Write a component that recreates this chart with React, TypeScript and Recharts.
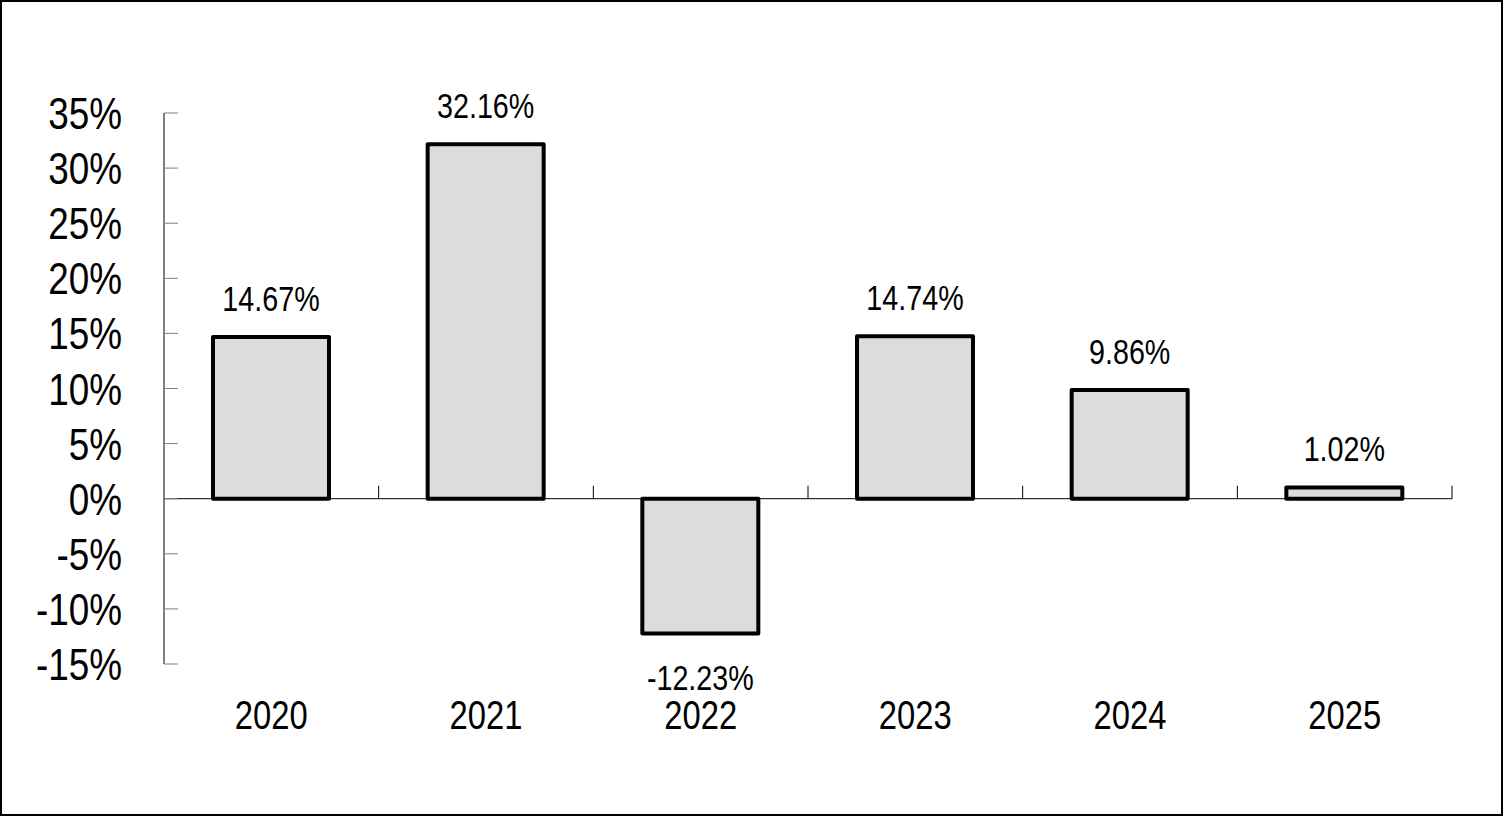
import React from 'react';
import { BarChart, Bar, XAxis, YAxis, ReferenceLine, LabelList } from 'recharts';

const years = ['2020', '2021', '2022', '2023', '2024', '2025'];
const returns = [14.67, 32.16, -12.23, 14.74, 9.86, 1.02];
const yTicks = [-15, -10, -5, 0, 5, 10, 15, 20, 25, 30, 35];

const data = years.map((year, i) => ({ year, value: returns[i] }));

const W = 1503;
const H = 816;
const M = { top: 113, right: 51, bottom: 72, left: 64 };
const YAW = 100;
const XAH = 80;
const plotLeft = M.left + YAW;
const plotRight = W - M.right;
const plotTop = M.top;
const plotBottom = H - M.bottom - XAH;
const band = (plotRight - plotLeft) / years.length;
const zeroY = plotTop + (35 / 50) * (plotBottom - plotTop);
const FONT = '"Liberation Sans",Arial,sans-serif';
const NARROW = 0.82;

const NText = ({ x, y, anchor, size, children }: any) => (
  <text
    transform={`translate(${x},${y}) scale(${NARROW},1)`}
    x={0}
    y={0}
    textAnchor={anchor}
    fontSize={size}
    fontFamily={FONT}
    fill="#000"
  >
    {children}
  </text>
);

const XTick = (props: any) => {
  const { x, y, payload } = props;
  return (
    <g>
      <line x1={x + band / 2} x2={x + band / 2} y1={zeroY} y2={zeroY - 13} stroke="#000" strokeWidth={1} />
      <NText x={x} y={y + 65} anchor="middle" size={40}>
        {payload.value}
      </NText>
    </g>
  );
};

const YTick = (props: any) => {
  const { x, y, payload } = props;
  return (
    <g>
      <line x1={x} x2={x + 14} y1={y} y2={y} stroke="#808080" strokeWidth={1} />
      <NText x={x - 42} y={y + 16} anchor="end" size={45}>
        {payload.value}%
      </NText>
    </g>
  );
};

const DataLabel = (props: any) => {
  const { x, y, width, height, value } = props;
  const top = Math.min(y, y + height);
  const bottom = Math.max(y, y + height);
  const neg = value < 0;
  const ty = neg ? bottom + 57 : top - 26;
  return (
    <NText x={x + width / 2} y={ty} anchor="middle" size={35}>
      {`${Number(value).toFixed(2)}%`}
    </NText>
  );
};

export default function App() {
  return (
    <div style={{ position: 'relative', width: W, height: H }}>
      <style>{'body{margin:0;}'}</style>
      <div
        style={{
          position: 'absolute',
          left: 0,
          top: 0,
          width: W,
          height: H,
          border: '2px solid #000',
          boxSizing: 'border-box',
          background: '#fff',
        }}
      />
      <div style={{ position: 'absolute', left: 0, top: 0 }}>
        <BarChart width={W} height={H} data={data} margin={M}>
          <XAxis
            dataKey="year"
            height={XAH}
            axisLine={false}
            tickLine={false}
            tickSize={0}
            tickMargin={0}
            interval={0}
            tick={<XTick />}
          />
          <YAxis
            width={YAW}
            domain={[-15, 35]}
            ticks={yTicks}
            interval={0}
            allowDataOverflow
            axisLine={{ stroke: '#000', strokeWidth: 1 }}
            tickLine={false}
            tickSize={0}
            tickMargin={0}
            tick={<YTick />}
          />
          <ReferenceLine y={0} stroke="#000" strokeWidth={1} />
          <Bar
            dataKey="value"
            barSize={116}
            fill="#dcdcdc"
            stroke="#000"
            strokeWidth={4}
            strokeLinejoin="round"
            isAnimationActive={false}
          >
            <LabelList dataKey="value" content={<DataLabel />} />
          </Bar>
        </BarChart>
      </div>
    </div>
  );
}
